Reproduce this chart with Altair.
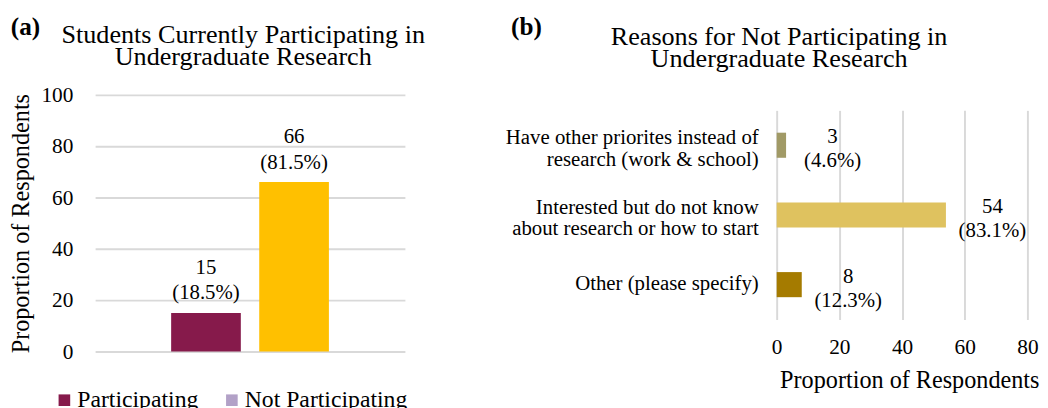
import altair as alt
import pandas as pd

FONT = "Liberation Serif"

# ---------------- Panel (a) data ----------------
part_groups = ["Participating", "Not Participating"]
part_counts = [15, 66]
part_pcts = [18.5, 81.5]
part_bar_colors = ["#861A4B", "#FFC000"]
part_legend_colors = ["#861A4B", "#B2A1C7"]
y_ticks_a = [0, 20, 40, 60, 80, 100]
title_a = ["Students Currently Participating in", "Undergraduate Research"]

# ---------------- Panel (b) data ----------------
reason_lines = [
    ["Have other priorites instead of", "research (work & school)"],
    ["Interested but do not know", "about research or how to start"],
    ["Other (please specify)"],
]
reason_counts = [3, 54, 8]
reason_pcts = [4.6, 83.1, 12.3]
reason_colors = ["#A19A66", "#DFC25F", "#A57B00"]
x_ticks_b = [0, 20, 40, 60, 80]
title_b = ["Reasons for Not Participating in", "Undergraduate Research"]

axis_title = "Proportion of Respondents"

df_a = pd.DataFrame({"group": part_groups, "count": part_counts, "pct": part_pcts})
reasons = ["\n".join(l) for l in reason_lines]
df_b = pd.DataFrame({"reason": reasons, "count": reason_counts, "pct": reason_pcts})
one = pd.DataFrame({"k": [0]})

label_expr = "[format(datum.count, 'd'), '(' + format(datum.pct, '.1f') + '%)']"
GRID = "#D9D9D9"

# one shared fill scale for the bars of both panels
fill_scale = alt.Scale(domain=part_groups + reasons, range=part_bar_colors + reason_colors)

# ---------------- Left chart ----------------
# plot origin is shared with the right panel; the value axis reaches 16px above it
xa = alt.X("group:N", sort=part_groups,
           scale=alt.Scale(domain=part_groups, paddingInner=0.209, paddingOuter=0.863),
           axis=None)
ya = alt.Y("count:Q", scale=alt.Scale(domain=[0, 100], range=[249, -16], nice=False),
           axis=alt.Axis(values=y_ticks_a, title=axis_title, grid=True, domain=False,
                         ticks=False, labelPadding=23, titlePadding=8, labelFlush=False,
                         labelFontSize=22, titleFontSize=25, gridColor=GRID, gridWidth=2,
                         labelFont=FONT, titleFont=FONT))

base_a = alt.Chart(df_a)
bars_a = base_a.mark_bar().encode(
    x=xa, y=ya, fill=alt.Fill("group:N", scale=fill_scale, legend=None),
)
legend_a = base_a.mark_square(opacity=0, size=144).encode(
    x=xa, y=ya,
    color=alt.Color("group:N", scale=alt.Scale(domain=part_groups, range=part_legend_colors),
                    legend=alt.Legend(title=None, orient="none", legendX=-44, legendY=287,
                                      direction="horizontal", symbolType="square",
                                      symbolSize=144, symbolOpacity=1, symbolStrokeWidth=0,
                                      labelFontSize=24.5, labelOffset=1, columnPadding=22,
                                      labelFont=FONT, labelLimit=400, padding=0)),
)
labels_a = base_a.transform_calculate(lbl=label_expr).mark_text(
    baseline="bottom", dy=-35, fontSize=21.5, lineHeight=26, color="black", font=FONT
).encode(x=xa, y=ya, text="lbl:N")
tag_a = alt.Chart(one).mark_text(fontWeight="bold", fontSize=26, baseline="middle",
                                 align="center", color="black", font=FONT).encode(
    x=alt.value(-72), y=alt.value(-86), text=alt.value("(a)"))
head_a = alt.Chart(one).mark_text(fontSize=27, lineHeight=23.5, baseline="middle",
                                  align="center", color="black", font=FONT).encode(
    x=alt.value(153), y=alt.value(-78), text=alt.value(title_a))

left = alt.layer(bars_a, legend_a, labels_a, tag_a, head_a).properties(width=320, height=249)

# ---------------- Right chart ----------------
multi_test = "length(split(datum.label, '\\n')) > 1"
yb = alt.Y("reason:N", sort=reasons,
           scale=alt.Scale(domain=reasons, paddingInner=0.64, paddingOuter=0.32),
           axis=alt.Axis(title=None, domain=False, ticks=False, labelPadding=19,
                         labelFontSize=21.5, labelLineHeight=22, labelLimit=400,
                         labelFont=FONT,
                         labelOffset={"condition": {"test": multi_test, "value": -7}, "value": 0},
                         labelExpr="split(datum.label, '\\n')"))
xb = alt.X("count:Q", scale=alt.Scale(domain=[0, 80], nice=False),
           axis=alt.Axis(values=x_ticks_b, title=axis_title, grid=True, domain=False,
                         ticks=False, labelPadding=18, titlePadding=11, labelFlush=False,
                         labelFontSize=22, titleFontSize=25, gridColor=GRID, gridWidth=2,
                         titleX=137, labelFont=FONT, titleFont=FONT))

base_b = alt.Chart(df_b)
bars_b = base_b.mark_bar().encode(
    x=xb, y=yb, fill=alt.Fill("reason:N", scale=fill_scale, legend=None),
)
labels_b = base_b.transform_calculate(lbl=label_expr).mark_text(
    align="center", baseline="middle", dx=48, dy=-8, fontSize=21.5, lineHeight=25,
    color="black", font=FONT
).encode(x=xb, y=yb, text="lbl:N")
tag_b = alt.Chart(one).mark_text(fontWeight="bold", fontSize=26, baseline="middle",
                                 align="center", color="black", font=FONT).encode(
    x=alt.value(-258.5), y=alt.value(-86), text=alt.value("(b)"))
head_b = alt.Chart(one).mark_text(fontSize=27, lineHeight=23.5, baseline="middle",
                                  align="center", color="black", font=FONT).encode(
    x=alt.value(2.5), y=alt.value(-76), text=alt.value(title_b))

right = alt.layer(bars_b, labels_b, tag_b, head_b).properties(width=259, height=216)

chart = alt.hconcat(left, right, spacing=82).properties(padding=0).configure(
    font=FONT
).configure_view(stroke=None).configure_axis(
    labelColor="black", titleColor="black", titleFontWeight="normal"
).configure_legend(labelColor="black")

chart.save("out.html", embed_options={"renderer": "svg", "actions": False})
